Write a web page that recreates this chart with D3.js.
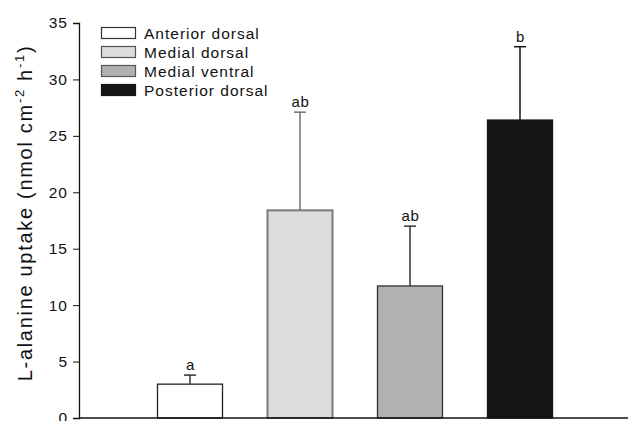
<!DOCTYPE html>
<html><head><meta charset="utf-8">
<script src="https://cdn.jsdelivr.net/npm/d3@7"></script>
<style>body{margin:0;background:#fff}svg{display:block}text{font-family:"Liberation Sans",Arial,sans-serif}</style>
</head><body><svg id="c" width="628" height="421"></svg>
<script>
const categories = ["Anterior dorsal","Medial dorsal","Medial ventral","Posterior dorsal"];
const values = [3.0, 18.4, 11.7, 26.4];
const errors = [0.8, 8.7, 5.3, 6.5];
const letters = ["a","ab","ab","b"];
const yTicks = [0,5,10,15,20,25,30,35];
const fills = ["#ffffff","#dcdddc","#b0b1b0","#161616"];
const strokes = ["#222222","#7a7a7a","#333333","#161616"];
const errColors = ["#333333","#707070","#333333","#161616"];

const svg = d3.select("#c");
const x = d3.scaleBand().domain(categories).range([80,630]).paddingInner(0.4).paddingOuter(0.7);
const y = d3.scaleLinear().domain([0,35]).range([418,23]);

// y axis
const ya = svg.append("g").attr("transform","translate(79,0)")
  .call(d3.axisLeft(y).tickValues(yTicks).tickSize(6).tickPadding(5));
ya.select(".domain").attr("stroke","#111").attr("stroke-width",1.3);
ya.selectAll(".tick line").attr("stroke","#111");
ya.selectAll("text").attr("font-size",15.5).attr("letter-spacing",1).attr("fill","#111")
  .attr("font-family","Liberation Sans, Arial, sans-serif");

// bars
svg.selectAll("rect.bar").data(categories).enter().append("rect")
  .attr("x",d=>x(d)+0.5).attr("y",(d,i)=>y(values[i]))
  .attr("width",x.bandwidth()-1).attr("height",(d,i)=>y(0)-y(values[i]))
  .attr("fill",(d,i)=>fills[i]).attr("stroke",(d,i)=>strokes[i]).attr("stroke-width",(d,i)=>i==1?2:1.3);

// error bars
const cx = d=>x(d)+x.bandwidth()/2;
categories.forEach((d,i)=>{
  const top = y(values[i]+errors[i]);
  svg.append("line").attr("x1",cx(d)).attr("x2",cx(d)).attr("y1",y(values[i])).attr("y2",top)
    .attr("stroke",errColors[i]).attr("stroke-width",1.5);
  svg.append("line").attr("x1",cx(d)-6).attr("x2",cx(d)+6).attr("y1",top).attr("y2",top)
    .attr("stroke",errColors[i]).attr("stroke-width",1.5);
  svg.append("text").attr("x",cx(d)+0.5).attr("y",top-5).attr("text-anchor","middle")
    .attr("font-size",15).attr("letter-spacing",0.6).attr("fill","#111").text(letters[i]);
});

// x axis line
svg.append("line").attr("x1",79).attr("x2",628).attr("y1",418).attr("y2",418)
  .attr("stroke","#111").attr("stroke-width",1.3);

// y label
const yl = svg.append("text").attr("transform","translate(32,213) rotate(-90)")
  .attr("text-anchor","middle").attr("font-size",20).attr("letter-spacing",1.7).attr("fill","#111");
yl.append("tspan").text("L-alanine uptake (nmol cm");
yl.append("tspan").attr("dy",-8).attr("font-size",13).text("-2");
yl.append("tspan").attr("dy",8).text(" h");
yl.append("tspan").attr("dy",-8).attr("font-size",13).text("-1");
yl.append("tspan").attr("dy",8).text(")");

// legend
const lg = svg.append("g");
categories.forEach((d,i)=>{
  const cy = 33 + i*19;
  lg.append("rect").attr("x",101.5).attr("y",cy-5.5).attr("width",34).attr("height",11)
    .attr("fill",fills[i]).attr("stroke",i==0?"#333":(i==3?"#161616":"#555")).attr("stroke-width",1.2);
  lg.append("text").attr("x",144).attr("y",cy+5.5).attr("font-size",15.5).attr("letter-spacing",1)
    .attr("fill","#111").text(d);
});
</script></body></html>
